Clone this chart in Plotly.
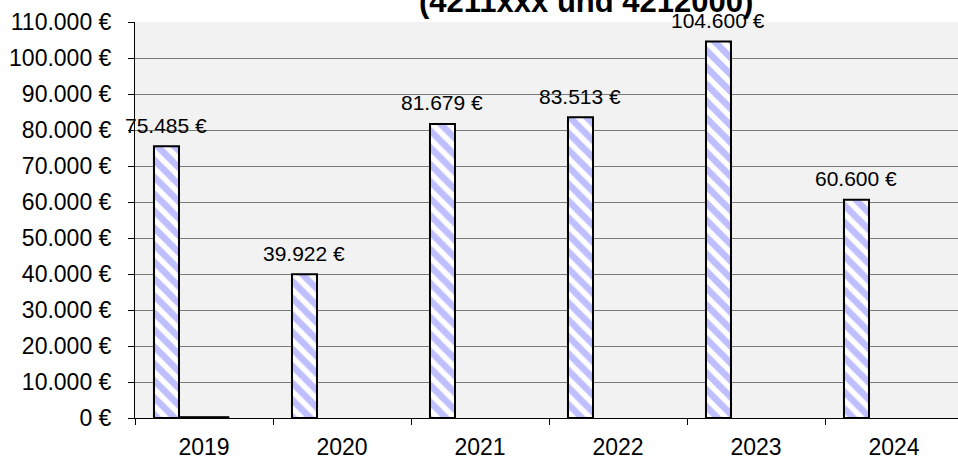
import plotly.graph_objects as go

years = ["2019", "2020", "2021", "2022", "2023", "2024"]
costs = [75485, 39922, 81679, 83513, 104600, 60600]
# second and third series are (near) zero, only present in 2019
series_b = [350, None, None, None, None, None]
series_c = [350, None, None, None, None, None]
series_d = [None, None, None, None, None, None]

label_text = ["75.485 €", "39.922 €", "81.679 €", "83.513 €", "104.600 €", "60.600 €"]
y_ticks = list(range(0, 110001, 10000))
y_tick_text = ["0 €", "10.000 €", "20.000 €", "30.000 €", "40.000 €", "50.000 €",
               "60.000 €", "70.000 €", "80.000 €", "90.000 €", "100.000 €", "110.000 €"]

FONT = "Liberation Sans, Arial"
hatch = dict(shape="\\", fgcolor="#8080ff", bgcolor="white", size=12, solidity=0.55)

fig = go.Figure()

fig.add_trace(go.Bar(x=years, y=costs, name="Kosten",
                     marker=dict(pattern=hatch, line=dict(color="black", width=2)),
                     hoverinfo="skip"))
for vals in (series_b, series_c, series_d):
    fig.add_trace(go.Bar(x=years, y=vals, marker=dict(color="black", line=dict(color="black", width=1)),
                         hoverinfo="skip"))

# value labels above the first series (x as category index)
for i, (v, t) in enumerate(zip(costs, label_text)):
    fig.add_annotation(x=i, y=v, text=t, showarrow=False, xshift=-38, yshift=21,
                       font=dict(family=FONT, size=21, color="black"))

fig.add_annotation(x=0.545, y=1, xref="paper", yref="paper", xanchor="center", yanchor="bottom",
                   yshift=1, text="<b>(4211xxx und 4212000)</b>", showarrow=False,
                   font=dict(family=FONT, size=31, color="black"))

fig.update_layout(
    width=963, height=457,
    margin=dict(l=135, r=0, t=22, b=39),
    paper_bgcolor="white", plot_bgcolor="#f2f2f2",
    barmode="group", bargap=0.275, bargroupgap=0,
    showlegend=False,
    font=dict(family=FONT, size=23, color="black"),
)
fig.update_xaxes(type="category", range=[-0.5, 5.5], tickson="boundaries", ticks="outside",
                 ticklen=6, tickcolor="black", ticklabelstandoff=8, automargin=False,
                 showline=True, linecolor="black", linewidth=1, showgrid=False,
                 tickfont=dict(size=23))
fig.update_yaxes(range=[0, 110000], tickvals=y_ticks, ticktext=y_tick_text,
                 ticks="outside", ticklen=6, tickcolor="black", ticklabelstandoff=12,
                 automargin=False,
                 showline=True, linecolor="black", linewidth=1,
                 showgrid=True, gridcolor="#7a7a7a", gridwidth=1, zeroline=False,
                 tickfont=dict(size=23))

fig.write_html("out.html", config={"displayModeBar": False},
               post_script="document.body.style.margin='0';document.body.style.overflow='hidden';")
